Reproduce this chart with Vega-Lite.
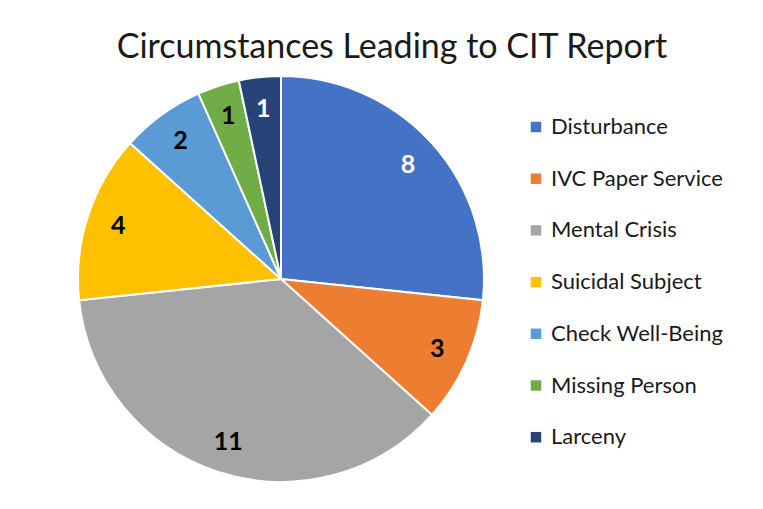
{
  "$schema": "https://vega.github.io/schema/vega-lite/v6.json",
  "autosize": {"type": "none"},
  "width": 406,
  "height": 406,
  "padding": {"left": 78, "top": 76, "right": 279, "bottom": 27},
  "background": "white",
  "title": {
    "text": "Circumstances Leading to CIT Report",
    "font": "Lato",
    "fontSize": 34,
    "fontWeight": "normal",
    "color": "#1a1a1a",
    "anchor": "middle",
    "frame": "group",
    "baseline": "alphabetic",
    "dx": 111,
    "dy": 39,
    "offset": 19
  },
  "data": {
    "values": [
      {"i": 1, "category": "Disturbance", "value": 8},
      {"i": 2, "category": "IVC Paper Service", "value": 3},
      {"i": 3, "category": "Mental Crisis", "value": 11},
      {"i": 4, "category": "Suicidal Subject", "value": 4},
      {"i": 5, "category": "Check Well-Being", "value": 2},
      {"i": 6, "category": "Missing Person", "value": 1},
      {"i": 7, "category": "Larceny", "value": 1}
    ]
  },
  "encoding": {
    "theta": {"field": "value", "type": "quantitative", "stack": true},
    "order": {"field": "i", "type": "quantitative"}
  },
  "layer": [
    {
      "mark": {"type": "arc", "outerRadius": 203, "stroke": "white", "strokeWidth": 2},
      "encoding": {
        "color": {
          "field": "category",
          "type": "nominal",
          "scale": {
            "domain": ["Disturbance", "IVC Paper Service", "Mental Crisis", "Suicidal Subject", "Check Well-Being", "Missing Person", "Larceny"],
            "range": ["#4472C4", "#ED7D31", "#A5A5A5", "#FFC000", "#5B9BD5", "#70AD47", "#264478"]
          },
          "legend": {
            "title": null,
            "orient": "none",
            "legendX": 447,
            "legendY": 40,
            "padding": 0,
            "symbolType": "square",
            "symbolSize": 110,
            "symbolStrokeWidth": 0,
            "labelFont": "Lato",
            "labelFontSize": 22,
            "labelColor": "#1a1a1a",
            "labelOffset": 4,
            "rowPadding": 29.7,
            "labelLimit": 300
          }
        }
      }
    },
    {
      "mark": {"type": "text", "radius": 171, "font": "Lato", "fontSize": 25, "fontWeight": "bold"},
      "encoding": {
        "text": {"field": "value", "type": "quantitative"},
        "color": {
          "condition": {"test": "datum.category === 'Disturbance' || datum.category === 'Larceny'", "value": "white"},
          "value": "black"
        }
      }
    }
  ]
}
